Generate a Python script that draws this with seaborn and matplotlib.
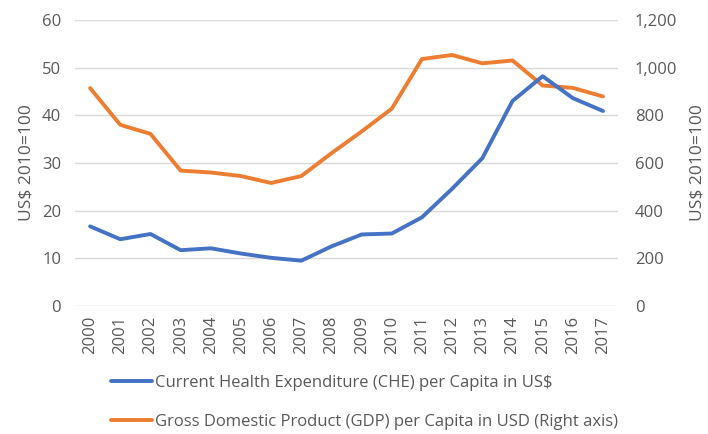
import numpy as np
import pandas as pd
import matplotlib
matplotlib.use("Agg")
import matplotlib.pyplot as plt
import seaborn as sns
from matplotlib.ticker import FuncFormatter

years = [str(y) for y in range(2000, 2018)]
che = [16.7, 14.0, 15.1, 11.7, 12.1, 11.0, 10.1, 9.5, 12.5, 15.0, 15.2,
       18.6, 24.6, 31.0, 43.0, 48.2, 43.6, 40.9]
gdp = [914, 760, 722, 568, 560, 545, 516, 545, 641, 732, 828,
       1036, 1053, 1018, 1030, 925, 915, 879]

che_label = "Current Health Expenditure (CHE) per Capita in US$"
gdp_label = "Gross Domestic Product (GDP) per Capita in USD (Right axis)"

sns.set_theme(style="white")
plt.rcParams["font.family"] = ["Open Sans", "DejaVu Sans"]
text_col = "#595959"
blue = "#4472C4"
orange = "#ED7D31"
fs = 12

df = pd.DataFrame({"Year": years, "CHE": che, "GDP": gdp})

fig = plt.figure(figsize=(7.08, 4.34), dpi=100)
ax = fig.add_axes([0.106, 0.295, 0.767, 0.659])
ax2 = ax.twinx()

sns.lineplot(data=df, x="Year", y="CHE", ax=ax, color=blue, linewidth=2.8,
             sort=False, label=che_label, legend=False)
sns.lineplot(data=df, x="Year", y="GDP", ax=ax2, color=orange, linewidth=2.8,
             sort=False, label=gdp_label, legend=False)
ax2.set_zorder(ax.get_zorder() - 1)
ax.patch.set_visible(False)
ax2.patch.set_visible(True)

ax.set_xlim(-0.5, len(years) - 0.5)
ax.set_ylim(0, 60)
ax.set_yticks(range(0, 61, 10))
ax2.set_ylim(0, 1200)
ax2.set_yticks(range(0, 1201, 200))
ax2.yaxis.set_major_formatter(FuncFormatter(lambda v, p: f"{int(v):,}"))

ax2.grid(True, axis="y", color="#D9D9D9", linewidth=1)
ax.grid(False)
for a in (ax, ax2):
    for s in a.spines.values():
        s.set_visible(False)
    a.tick_params(axis="both", length=0, colors=text_col, labelsize=fs)

ax.tick_params(axis="x", rotation=90, pad=7)
ax.tick_params(axis="y", pad=10)
ax2.tick_params(axis="y", pad=12)
ax.set_xlabel("")
ax.set_ylabel("US$ 2010=100", color=text_col, fontsize=12.5, labelpad=5)
ax2.set_ylabel("US$ 2010=100", color=text_col, fontsize=12.5, labelpad=9)

h1, l1 = ax.get_legend_handles_labels()
h2, l2 = ax2.get_legend_handles_labels()
fig.legend(h1 + h2, l1 + l2, loc="lower left", bbox_to_anchor=(0.135, -0.025),
           frameon=False, fontsize=fs, labelcolor=text_col,
           handlelength=2.5, handletextpad=0.15, labelspacing=1.4)

fig.savefig("out.png", dpi=100)
